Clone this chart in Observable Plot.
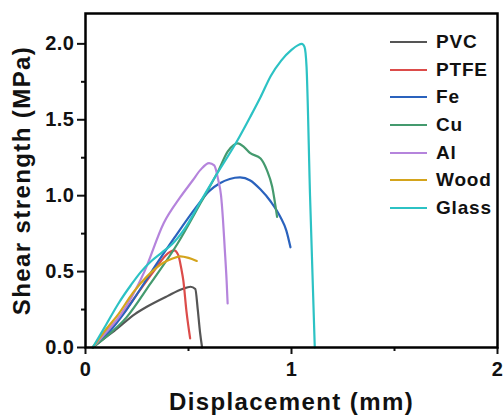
<!DOCTYPE html>
<html>
<head>
<meta charset="utf-8">
<script src="https://cdn.jsdelivr.net/npm/d3@7"></script>
<script src="https://cdn.jsdelivr.net/npm/@observablehq/plot@0.6"></script>
<style>
  html, body { margin: 0; padding: 0; background: #fff; }
  #wrap { position: relative; width: 504px; height: 419px; font-family: "Liberation Sans", Arial, sans-serif; }
  #legend { position: absolute; left: 390px; top: 28px; }
  .row { display: flex; align-items: center; height: 27.7px; }
  .sw { width: 37px; height: 0; border-top: 2.6px solid; margin-right: 9px; }
  .lab { font-weight: bold; font-size: 19px; letter-spacing: 0.8px; color: #111; }
</style>
</head>
<body>
<div id="wrap"></div>
<script>
// Series names and colours
const seriesNames = ["PVC", "PTFE", "Fe", "Cu", "Al", "Wood", "Glass"];
const seriesColors = ["#555555", "#dc4c4a", "#2a62bd", "#449a6e", "#b584dc", "#d4a41c", "#2cc2c4"];

// Displacement (mm), shear strength (MPa) pairs
const PVC = [[0.035,0],[0.1,0.07],[0.14,0.11],[0.24,0.22],[0.3,0.27],[0.4,0.34],[0.47,0.385],[0.51,0.4],[0.533,0.385],[0.545,0.25],[0.556,0.1],[0.566,0]];
const PTFE = [[0.035,0],[0.1,0.1],[0.18,0.22],[0.25,0.35],[0.33,0.5],[0.4,0.62],[0.43,0.64],[0.45,0.61],[0.465,0.52],[0.475,0.44],[0.49,0.24],[0.508,0.06]];
const Fe = [[0.035,0],[0.1,0.08],[0.2,0.25],[0.283,0.42],[0.35,0.56],[0.43,0.72],[0.54,0.93],[0.6,1.03],[0.65,1.08],[0.7,1.11],[0.75,1.12],[0.8,1.1],[0.85,1.04],[0.9,0.96],[0.946,0.86],[0.975,0.77],[0.995,0.66]];
const Cu = [[0.035,0],[0.1,0.07],[0.2,0.2],[0.315,0.42],[0.445,0.68],[0.558,0.95],[0.647,1.17],[0.69,1.29],[0.72,1.335],[0.74,1.345],[0.77,1.32],[0.8,1.28],[0.85,1.245],[0.88,1.17],[0.906,1.06],[0.93,0.86]];
const Al = [[0.035,0],[0.1,0.1],[0.173,0.22],[0.286,0.5],[0.38,0.82],[0.46,0.99],[0.52,1.1],[0.558,1.17],[0.6,1.215],[0.625,1.2],[0.645,1.1],[0.658,1.0],[0.667,0.85],[0.676,0.65],[0.685,0.44],[0.69,0.29]];
const Wood = [[0.035,0],[0.1,0.12],[0.16,0.22],[0.23,0.36],[0.3,0.47],[0.38,0.56],[0.42,0.585],[0.46,0.6],[0.5,0.59],[0.54,0.57]];
const Glass = [[0.035,0],[0.1,0.15],[0.16,0.29],[0.22,0.41],[0.27,0.5],[0.32,0.57],[0.37,0.625],[0.42,0.68],[0.48,0.78],[0.558,0.96],[0.623,1.11],[0.74,1.37],[0.8,1.52],[0.85,1.65],[0.9,1.79],[0.95,1.89],[1.0,1.96],[1.03,1.99],[1.05,2.0],[1.063,1.98],[1.073,1.85],[1.09,1.0],[1.113,0]];

// Axis ticks
const xTicks = [0, 1, 2];
const xMinor = [0.5, 1.5];
const yTicks = [0, 0.5, 1.0, 1.5, 2.0];
const yMinor = [0.25, 0.75, 1.25, 1.75];

const allSeries = [PVC, PTFE, Fe, Cu, Al, Wood, Glass];
const rows = allSeries.flatMap((s, i) => s.map(([x, y]) => ({series: seriesNames[i], x, y})));

const font = "Liberation Sans, Arial, sans-serif";

const plot = Plot.plot({
  width: 504,
  height: 419,
  marginLeft: 85,
  marginRight: 7,
  marginTop: 13,
  marginBottom: 72,
  style: {fontFamily: font, background: "#fff", color: "#111"},
  x: {domain: [0, 2], label: null},
  y: {domain: [0, 2.2], label: null},
  color: {domain: seriesNames, range: seriesColors},
  marks: [
    Plot.line(rows, {x: "x", y: "y", z: "series", stroke: "series", strokeWidth: 2.2, curve: "monotone-x"}),
    Plot.axisX({ticks: xMinor, tickSize: 4, tickFormat: () => "", strokeWidth: 2, label: null, labelArrow: "none"}),
    Plot.axisY({ticks: yMinor, tickSize: 4, tickFormat: () => "", strokeWidth: 2, label: null, labelArrow: "none"}),
    Plot.axisX({ticks: xTicks, tickSize: 7, tickPadding: 7, tickFormat: d3.format("d"), strokeWidth: 2,
      fontSize: 20, fontWeight: "bold", label: "Displacement (mm)", labelArrow: "none", labelAnchor: "center", labelOffset: 62}),
    Plot.axisY({ticks: yTicks, tickSize: 8, tickPadding: 3, tickFormat: d3.format(".1f"), strokeWidth: 2,
      fontSize: 20, fontWeight: "bold", label: "Shear strength (MPa)", labelArrow: "none", labelAnchor: "center", labelOffset: 73}),
    Plot.frame({stroke: "#000", strokeWidth: 2.5})
  ]
});

// Style axis titles and tick labels
plot.querySelectorAll("g[aria-label='x-axis label'] text, g[aria-label='y-axis label'] text").forEach(t => {
  t.setAttribute("font-size", "24");
  t.setAttribute("font-weight", "bold");
  t.setAttribute("letter-spacing", "1.4");
});
plot.querySelectorAll("g[aria-label='x-axis tick label'] text, g[aria-label='y-axis tick label'] text").forEach(t => {
  t.setAttribute("letter-spacing", "0.5");
});

const wrap = document.getElementById("wrap");
wrap.appendChild(plot);

const legend = document.createElement("div");
legend.id = "legend";
seriesNames.forEach((name, i) => {
  const row = document.createElement("div");
  row.className = "row";
  const sw = document.createElement("div");
  sw.className = "sw";
  sw.style.borderTopColor = seriesColors[i];
  const lab = document.createElement("span");
  lab.className = "lab";
  lab.textContent = name;
  row.appendChild(sw);
  row.appendChild(lab);
  legend.appendChild(row);
});
wrap.appendChild(legend);
</script>
</body>
</html>
